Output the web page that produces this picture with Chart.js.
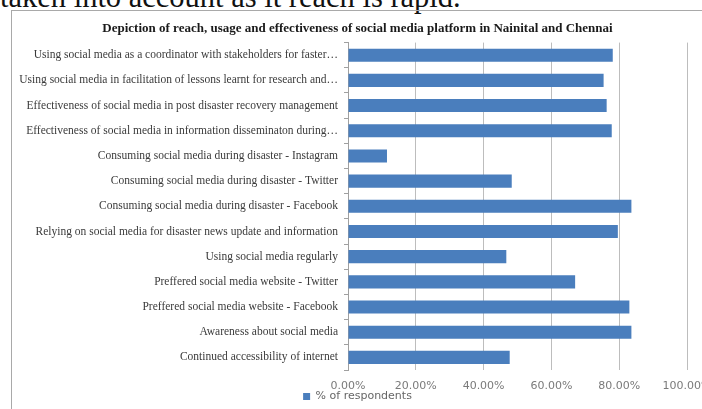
<!DOCTYPE html>
<html>
<head>
<meta charset="utf-8">
<script src="https://cdn.jsdelivr.net/npm/chart.js@4.4.1/dist/chart.umd.min.js"></script>
<style>
  html, body { margin: 0; padding: 0; background: #fff; }
  body { width: 702px; height: 409px; overflow: hidden; position: relative; }
  #para {
    position: absolute; left: 0; top: -18.5px; white-space: nowrap;
    font-family: "Liberation Serif", serif; font-size: 30.5px; line-height: 30.5px; color: #111;
  }
  #frame {
    position: absolute; left: 11px; top: 10px; width: 800px; height: 500px;
    border: 1px solid #a9a9a9;
  }
  #wrap { position: absolute; left: 12px; top: 11px; width: 710px; height: 414px; }
</style>
</head>
<body>
<div id="para">taken into account as it reach is rapid.</div>
<div id="frame"></div>
<div id="wrap"><canvas id="chart"></canvas></div>
<script>
const chartTitle = 'Depiction of reach, usage and effectiveness of social media platform in Nainital and Chennai';
const seriesName = '% of respondents';

const categories = [
    'Using social media as a coordinator with stakeholders for faster\u2026',
    'Using social media in facilitation of lessons learnt for research and\u2026',
    'Effectiveness of social media in post disaster recovery management',
    'Effectiveness of social media in information disseminaton during\u2026',
    'Consuming social media during disaster - Instagram',
    'Consuming social media during disaster - Twitter',
    'Consuming social media during disaster - Facebook',
    'Relying on social media for disaster news update and information',
    'Using social media regularly',
    'Preffered social media website - Twitter',
    'Preffered social media website - Facebook',
    'Awareness about social media',
    'Continued accessibility of internet'
];

// percent of respondents
const respondents = [78.1, 75.4, 76.3, 77.8, 11.5, 48.3, 83.6, 79.6, 46.7, 67.0, 83.0, 83.6, 47.7];

const xTicks = [0, 20, 40, 60, 80, 100];

// title and legend are a bit off-centre in the original sheet,
// and the legend sits up against the tick labels
const nudge = {
    id: 'nudge',
    afterLayout(chart) {
        const t = chart.titleBlock, l = chart.legend;
        t.left += 8; t.right += 8;
        l.left += 8; l.right += 8;
        l.top -= 6; l.bottom -= 6;
    }
};

const ctx = document.getElementById('chart').getContext('2d');
new Chart(ctx, {
    type: 'bar',
    data: {
        labels: categories,
        datasets: [{
            label: seriesName,
            data: respondents,
            backgroundColor: '#4a7ebd',
            borderWidth: 0,
            categoryPercentage: 1,
            barPercentage: 0.52
        }]
    },
    options: {
        indexAxis: 'y',
        responsive: true,
        maintainAspectRatio: false,
        animation: false,
        layout: { padding: { top: 0, right: 35, bottom: 7, left: 0 } },
        plugins: {
            title: {
                display: true,
                text: chartTitle,
                color: '#1a1a1a',
                font: { family: 'Liberation Serif', size: 13, weight: 'bold' },
                padding: { top: 10, bottom: 6 }
            },
            legend: {
                position: 'bottom',
                labels: {
                    boxWidth: 7,
                    boxHeight: 7,
                    padding: 0,
                    color: '#666',
                    font: { family: 'DejaVu Sans', size: 11 }
                }
            },
            tooltip: { enabled: false }
        },
        scales: {
            x: {
                min: 0,
                max: 100,
                afterBuildTicks: axis => { axis.ticks = xTicks.map(v => ({ value: v })); },
                afterFit: axis => { axis.height = 27; axis.paddingRight = 0; axis.paddingLeft = 0; },
                grid: { color: '#bdbdbd', drawTicks: false },
                border: { display: false },
                ticks: {
                    padding: 10,
                    color: '#7a7a7a',
                    font: { family: 'DejaVu Sans', size: 11 },
                    maxRotation: 0,
                    callback: v => v.toFixed(2) + '%'
                }
            },
            y: {
                afterFit: axis => { axis.width = 336; },
                grid: { drawOnChartArea: false, offset: true, tickLength: 4, color: '#a0a0a0' },
                border: { display: true, color: '#a0a0a0' },
                ticks: {
                    padding: 6,
                    color: '#3a3a3a',
                    autoSkip: false,
                    font: { family: 'Liberation Serif', size: 11.5 }
                }
            }
        }
    },
    plugins: [nudge]
});
</script>
</body>
</html>
